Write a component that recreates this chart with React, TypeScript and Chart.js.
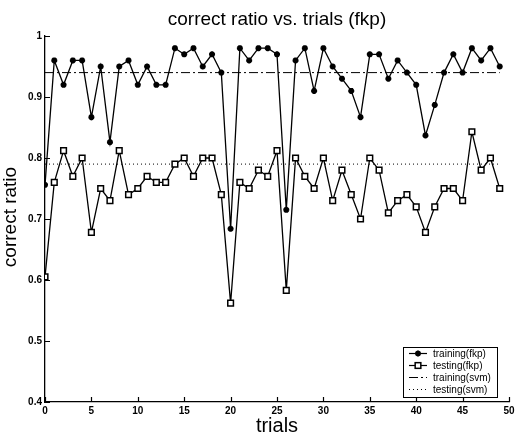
import { useEffect, useRef } from "react";
import { Chart, registerables } from "chart.js";

Chart.register(...registerables);

// trial index on the x axis
const trials = [
  0, 1, 2, 3, 4, 5, 6, 7, 8, 9, 10, 11, 12, 13, 14, 15, 16, 17, 18, 19, 20, 21, 22, 23, 24,
  25, 26, 27, 28, 29, 30, 31, 32, 33, 34, 35, 36, 37, 38, 39, 40, 41, 42, 43, 44, 45, 46, 47, 48, 49,
];

// correct ratio per trial, fkp classifier
const trainingFkp = [
  0.756, 0.96, 0.92, 0.96, 0.96, 0.867, 0.95, 0.826, 0.95, 0.96,
  0.92, 0.95, 0.92, 0.92, 0.98, 0.97, 0.98, 0.95, 0.97, 0.94,
  0.684, 0.98, 0.96, 0.98, 0.98, 0.97, 0.715, 0.96, 0.98, 0.91,
  0.98, 0.95, 0.93, 0.91, 0.867, 0.97, 0.97, 0.93, 0.96, 0.94,
  0.92, 0.837, 0.887, 0.94, 0.97, 0.94, 0.98, 0.96, 0.98, 0.95,
];
const testingFkp = [
  0.605, 0.76, 0.812, 0.77, 0.80, 0.678, 0.75, 0.73, 0.812, 0.74,
  0.75, 0.77, 0.76, 0.76, 0.79, 0.80, 0.77, 0.80, 0.80, 0.74,
  0.562, 0.76, 0.75, 0.78, 0.77, 0.812, 0.583, 0.80, 0.77, 0.75,
  0.80, 0.73, 0.78, 0.74, 0.70, 0.80, 0.78, 0.71, 0.73, 0.74,
  0.72, 0.678, 0.72, 0.75, 0.75, 0.73, 0.843, 0.78, 0.80, 0.75,
];

// svm reference levels, drawn across the trial range
const svmRange = [0, 49];
const trainingSvm = 0.94;
const testingSvm = 0.79;

const xTicks = [0, 5, 10, 15, 20, 25, 30, 35, 40, 45, 50];
const yTicks = [0.4, 0.5, 0.6, 0.7, 0.8, 0.9, 1];

const chartTitle = "correct ratio vs. trials (fkp)";
const xTitle = "trials";
const yTitle = "correct ratio";

const FONT = "'Liberation Sans', Arial, Helvetica, sans-serif";

const seriesLabels = ["training(fkp)", "testing(fkp)", "training(svm)", "testing(svm)"];

const decorations = {
  id: "decorations",
  afterDraw(chart: any) {
    const { ctx, chartArea, scales } = chart;
    const xs = scales.x;
    const ys = scales.y;
    ctx.save();
    ctx.strokeStyle = "#000";
    ctx.lineWidth = 1.2;

    // inward tick marks
    ctx.beginPath();
    for (const v of xTicks) {
      const px = Math.round(xs.getPixelForValue(v)) + 0.5;
      ctx.moveTo(px, chartArea.bottom);
      ctx.lineTo(px, chartArea.bottom - 5);
    }
    for (const v of yTicks) {
      const py = Math.round(ys.getPixelForValue(v)) + 0.5;
      ctx.moveTo(chartArea.left, py);
      ctx.lineTo(chartArea.left + 5, py);
    }
    ctx.stroke();

    // titles
    const cx = (chartArea.left + chartArea.right) / 2;
    ctx.fillStyle = "#000";
    ctx.textAlign = "center";
    ctx.textBaseline = "alphabetic";
    ctx.font = `19px ${FONT}`;
    ctx.fillText(chartTitle, cx, 25);
    ctx.font = `20px ${FONT}`;
    ctx.fillText(xTitle, cx, 432);
    ctx.save();
    ctx.translate(16, (chartArea.top + chartArea.bottom) / 2 - 2);
    ctx.rotate(-Math.PI / 2);
    ctx.font = `19px ${FONT}`;
    ctx.fillText(yTitle, 0, 0);
    ctx.restore();

    // legend box
    const bx = 403, by = 347, bw = 94, bh = 50;
    ctx.fillStyle = "#fff";
    ctx.fillRect(bx, by, bw, bh);
    ctx.lineWidth = 1;
    ctx.strokeRect(bx + 0.5, by + 0.5, bw, bh);
    ctx.font = `10px ${FONT}`;
    ctx.textAlign = "left";
    ctx.textBaseline = "middle";
    ctx.fillStyle = "#000";
    const rows = [353, 365, 377, 389];
    rows.forEach((ry, i) => {
      const ds = chart.data.datasets[i];
      ctx.save();
      ctx.strokeStyle = "#000";
      ctx.lineWidth = 1.2;
      ctx.setLineDash(ds.borderDash || []);
      ctx.beginPath();
      ctx.moveTo(409, ry + 0.5);
      ctx.lineTo(427, ry + 0.5);
      ctx.stroke();
      ctx.restore();
      if (ds.pointRadius > 0) {
        ctx.save();
        ctx.lineWidth = ds.pointBorderWidth;
        ctx.strokeStyle = "#000";
        ctx.fillStyle = ds.pointBackgroundColor;
        const r = ds.pointRadius;
        if (ds.pointStyle === "rect") {
          const s = Math.SQRT1_2 * r;
          ctx.fillRect(418 - s, ry + 0.5 - s, 2 * s, 2 * s);
          ctx.strokeRect(418 - s, ry + 0.5 - s, 2 * s, 2 * s);
        } else {
          ctx.beginPath();
          for (let k = 0; k < 4; k++) {
            const a = (k * Math.PI) / 4;
            ctx.moveTo(418 - r * Math.cos(a), ry + 0.5 - r * Math.sin(a));
            ctx.lineTo(418 + r * Math.cos(a), ry + 0.5 + r * Math.sin(a));
          }
          ctx.stroke();
        }
        ctx.restore();
      }
      ctx.fillText(ds.label, 433, ry + 1);
    });
    ctx.restore();
  },
};

export default function App() {
  const canvasRef = useRef<HTMLCanvasElement | null>(null);

  useEffect(() => {
    const canvas = canvasRef.current;
    if (!canvas) return;
    const chart = new Chart(canvas, {
      type: "line",
      data: {
        datasets: [
          {
            label: seriesLabels[0],
            data: trials.map((t, i) => ({ x: t, y: trainingFkp[i] })),
            borderColor: "#000",
            borderWidth: 1.3,
            pointStyle: "star",
            pointRadius: 3,
            pointBorderWidth: 2,
            pointBorderColor: "#000",
            pointBackgroundColor: "#000",
            tension: 0,
          },
          {
            label: seriesLabels[1],
            data: trials.map((t, i) => ({ x: t, y: testingFkp[i] })),
            borderColor: "#000",
            borderWidth: 1.3,
            pointStyle: "rect",
            pointRadius: 4,
            pointBorderWidth: 1.5,
            pointBorderColor: "#000",
            pointBackgroundColor: "#fff",
            tension: 0,
          },
          {
            label: seriesLabels[2],
            data: svmRange.map((t) => ({ x: t, y: trainingSvm })),
            borderColor: "#000",
            borderWidth: 1,
            borderDash: [9, 3, 2, 3],
            pointRadius: 0,
            tension: 0,
          },
          {
            label: seriesLabels[3],
            data: svmRange.map((t) => ({ x: t, y: testingSvm })),
            borderColor: "#000",
            borderWidth: 1,
            borderDash: [1, 3],
            pointRadius: 0,
            tension: 0,
          },
        ],
      },
      options: {
        animation: false,
        responsive: false,
        layout: { padding: { top: 36, right: 6, left: 0, bottom: 0 } },
        plugins: {
          legend: { display: false },
          title: { display: false },
          tooltip: { enabled: false },
        },
        scales: {
          x: {
            type: "linear",
            min: 0,
            max: 50,
            afterBuildTicks: (scale: any) => {
              scale.ticks = xTicks.map((v) => ({ value: v }));
            },
            afterFit: (scale: any) => {
              scale.height = 32;
              scale.paddingLeft = 0;
              scale.paddingRight = 0;
            },
            grid: { display: false, drawTicks: false, tickLength: 0 },
            border: { display: true, color: "#000", width: 1.3 },
            ticks: {
              color: "#000",
              padding: 3,
              maxRotation: 0,
              font: { family: FONT, size: 10, weight: "bold" },
            },
          },
          y: {
            type: "linear",
            min: 0.4,
            max: 1,
            afterBuildTicks: (scale: any) => {
              scale.ticks = yTicks.map((v) => ({ value: v }));
            },
            afterFit: (scale: any) => {
              scale.width = 45;
              scale.paddingTop = 0;
              scale.paddingBottom = 0;
            },
            grid: { display: false, drawTicks: false, tickLength: 0 },
            border: { display: true, color: "#000", width: 1.3 },
            ticks: {
              color: "#000",
              padding: 3,
              font: { family: FONT, size: 10, weight: "bold" },
              callback: (v: any) => String(Number(Number(v).toFixed(1))),
            },
          },
        },
      },
      plugins: [decorations],
    });
    return () => chart.destroy();
  }, []);

  return (
    <div style={{ position: "absolute", left: 0, top: 0, width: 515, height: 434, background: "#fff" }}>
      <canvas ref={canvasRef} width={515} height={434} />
    </div>
  );
}
